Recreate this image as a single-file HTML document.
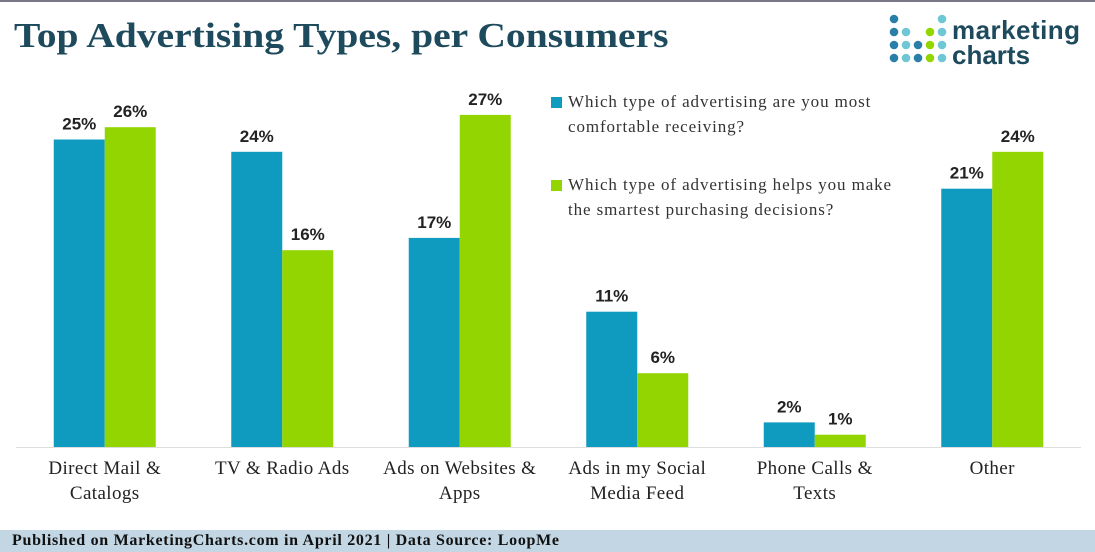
<!DOCTYPE html>
<html><head><meta charset="utf-8"><style>
body{margin:0;width:1095px;height:552px;background:#fff;overflow:hidden;position:relative;font-family:"Liberation Serif",serif;}
#title{position:absolute;left:14px;top:16px;font-size:35px;font-weight:bold;color:#1d4a5c;transform-origin:0 0;transform:scaleX(1.13);white-space:nowrap;}
#footer{position:absolute;left:0;top:530px;width:1095px;height:22px;background:#c3d6e4;font-size:16px;font-weight:bold;color:#111;line-height:22px;padding-left:12px;box-sizing:border-box;letter-spacing:0.7px;}
.leg{position:absolute;font-size:17px;color:#333;line-height:25px;left:568px;letter-spacing:0.9px;white-space:nowrap;}
.sw{position:absolute;width:11px;height:11px;left:551px;}
</style></head><body>
<div id="topline" style="position:absolute;left:0;top:0;width:1095px;height:2px;background:#778"></div>
<div id="title">Top Advertising Types, per Consumers</div>
<svg style="position:absolute;left:888px;top:12px" width="207" height="60">
<g id="dots"></g>
<text x="64" y="27" font-family="Liberation Sans,sans-serif" font-size="26" font-weight="bold" fill="#1d4a5c" textLength="128">marketing</text>
<text x="64" y="52" font-family="Liberation Sans,sans-serif" font-size="26" font-weight="bold" fill="#1d4a5c">charts</text>
</svg>
<div class="sw" style="top:97px;background:#0e9bbf"></div>
<div class="leg" style="top:89px">Which type of advertising are you most<br>comfortable receiving?</div>
<div class="sw" style="top:180px;background:#93d500"></div>
<div class="leg" style="top:172px">Which type of advertising helps you make<br>the smartest purchasing decisions?</div>
<svg id="chart" style="position:absolute;left:0;top:0" width="1095" height="530"></svg>
<div id="footer">Published on MarketingCharts.com in April 2021 | Data Source: LoopMe</div>
<script>
const categories=[["Direct Mail &","Catalogs"],["TV & Radio Ads"],["Ads on Websites &","Apps"],["Ads in my Social","Media Feed"],["Phone Calls &","Texts"],["Other"]];
const comfortable=[25,24,17,11,2,21];
const smartest=[26,16,27,6,1,24];
const NS="http://www.w3.org/2000/svg";
const svg=document.getElementById('chart');
const base=447,pxPer=12.3,x0=16,step=177.5,bw=51;
function y(v){return base-v*pxPer;}
function cx(i){return x0+step*(i+0.5);}
function mk(t,a){const e=document.createElementNS(NS,t);for(const k in a)e.setAttribute(k,a[k]);svg.appendChild(e);return e;}
const ax=mk('line',{x1:x0,x2:x0+step*6,y1:base+0.5,y2:base+0.5,stroke:'#ddd','stroke-width':1});


categories.forEach((c,i)=>{
 const s=[[comfortable[i],'#0e9bbf',-bw],[smartest[i],'#93d500',0]];
 s.forEach((d,j)=>{
  const r=mk('rect',{x:cx(i)+d[2],y:y(d[0]),width:bw,height:d[0]*pxPer,fill:d[1]});
  
  
  const t=mk('text',{x:cx(i)+d[2]+bw/2,y:y(d[0])-10,'text-anchor':'middle','font-family':'Liberation Sans,sans-serif','font-size':17,'font-weight':'bold',fill:'#222'});
  t.textContent=d[0]+'%';
  
  
 });
 c.forEach((ln,k)=>{
  const t=mk('text',{x:cx(i),y:474+k*25,'text-anchor':'middle','font-family':'Liberation Serif,serif','font-size':19,fill:'#222','letter-spacing':'0.4'});
  t.textContent=ln;
  
  
 });
});
const g=document.getElementById('dots');
const cols=[['#2a7fa8','#2a7fa8','#2a7fa8','#2a7fa8'],[null,'#6fc6d4','#6fc6d4','#6fc6d4'],[null,null,'#2a7fa8','#2a7fa8'],[null,'#93d500','#93d500','#93d500'],['#6fc6d4','#6fc6d4','#6fc6d4','#6fc6d4']];
cols.forEach((col,ci)=>col.forEach((c,ri)=>{if(!c)return;const e=document.createElementNS(NS,'circle');e.setAttribute('cx',6+ci*12);e.setAttribute('cy',7+ri*13);e.setAttribute('r',4.3);e.setAttribute('fill',c);g.appendChild(e);}));
</script>
</body></html>
